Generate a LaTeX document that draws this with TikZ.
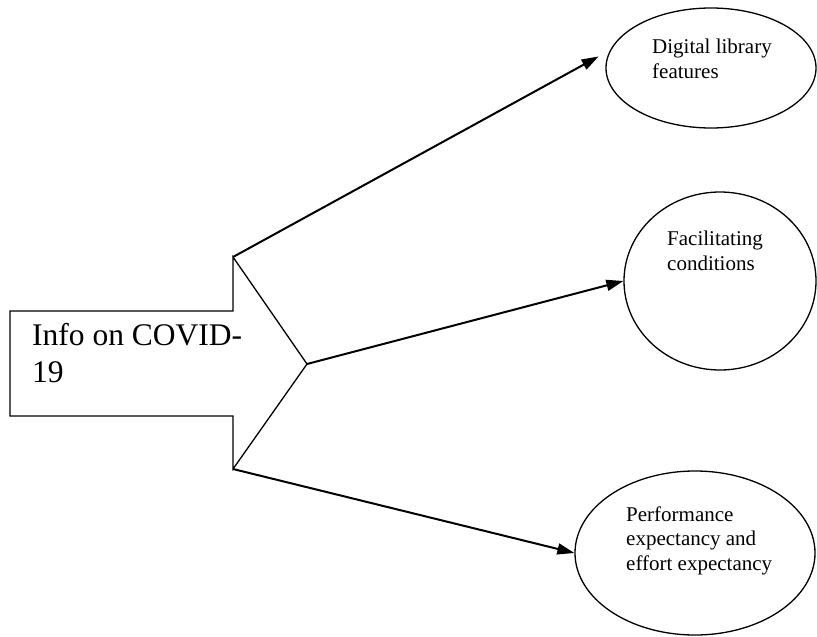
\documentclass[tikz,border=0pt]{standalone}
\usepackage{fontspec}
\setmainfont{Liberation Serif}
\usetikzlibrary{shapes.geometric,arrows.meta}
\begin{document}
\begin{tikzpicture}[x=1pt,y=-1pt,
  oval/.style={draw,line width=1.3pt,ellipse,inner sep=0pt},
  conn/.style={line width=2pt,-{Triangle[length=17pt,width=11pt]}},
  small/.style={anchor=base west,inner sep=0pt,font=\fontsize{21}{24.5}\selectfont,align=left},
  big/.style={anchor=base west,inner sep=0pt,font=\fontsize{31.5}{37}\selectfont,align=left}]
\useasboundingbox (0,0) rectangle (817,637);
% block arrow
\coordinate (ctop) at (233,257);
\coordinate (ctip) at (307,364);
\coordinate (cbot) at (233,469);
\draw[line width=1.3pt,line join=miter] (10,311) -- (233,311) -- (ctop) -- (ctip) -- (cbot) -- (233,416) -- (10,416) -- cycle;
\node[big] (info) at (32,382) {Info on COVID-\\19};
% ellipses
\node[oval,minimum width=210pt,minimum height=120pt] (e1) at (711,68) {};
\node[oval,minimum width=192pt,minimum height=178pt] (e2) at (720,281) {};
\node[oval,minimum width=240pt,minimum height=164pt] (e3) at (695,553) {};
\node[small] (t1) at (652,78) {Digital library\\features};
\node[small] (t2) at (667,270) {Facilitating\\conditions};
\node[small] (t3) at (626,570) {Performance\\expectancy and\\effort expectancy};
% connectors
\draw[conn,shorten >=13pt] (ctop) -- (e1.170);
\draw[conn] (ctip) -- (e2.west);
\draw[conn] (cbot) -- (e3.west);
\end{tikzpicture}
\end{document}
